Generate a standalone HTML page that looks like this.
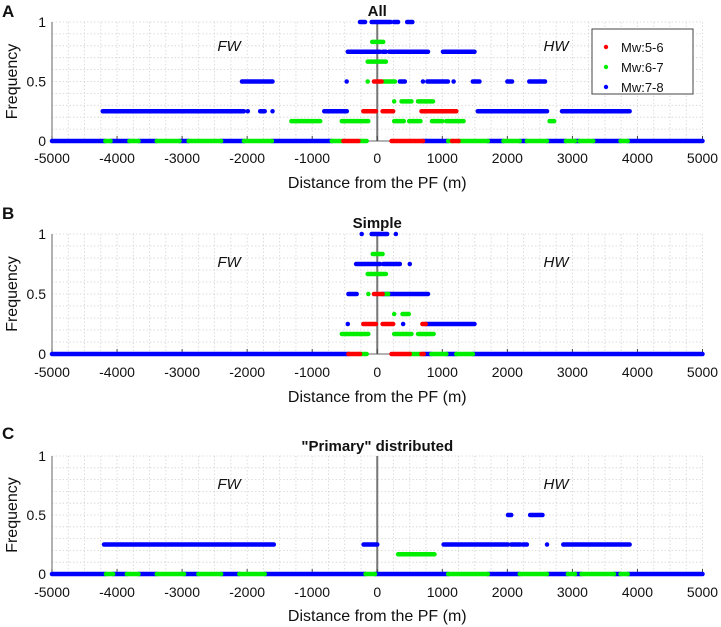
<!DOCTYPE html>
<html><head><meta charset="utf-8"><style>
body{margin:0;background:#fff;}
svg{display:block;font-family:"Liberation Sans",Arial,sans-serif;}
</style></head><body>
<svg id="fig" width="721" height="627" viewBox="0 0 721 627" xmlns="http://www.w3.org/2000/svg"></svg>
<script>
// x-axis ticks and y-axis ticks
const xTicks = [-5000,-4000,-3000,-2000,-1000,0,1000,2000,3000,4000,5000];
const yTicks = [0,0.5,1];
const panelTitles = ["All","Simple","\"Primary\" distributed"];
const panelLetters = ["A","B","C"];
// segments: [frequency, xStart, xEnd]
const aRed = [[0.5,-50,67],[0.25,-214,-20],[0.25,82,245],[0.25,680,1215],[0,-520,-290],[0,219,704],[0,1150,1250]];
const aGreen = [[0.833,-77,92],[0.667,-147,133],[0.5,-147,-147],[0.5,92,271],[0.333,260,260],[0.333,373,526],[0.333,627,857],
 [0.167,-1320,-877],[0.167,-545,-138],[0.167,260,408],[0.167,490,664],[0.167,841,1000],[0.167,1060,1327],[0.167,2650,2720],
 [0,-4180,-4100],[0,-3810,-3670],[0,-3390,-3040],[0,-2900,-2400],[0,-2050,-1620],[0,-700,-520],[0,-275,-163],[0,1090,1150],[0,1250,1700],[0,1940,2190],[0,2300,2610],[0,2900,3040],[0,3110,3320],[0,3740,3850]];
const aBlue = [[1,-265,-188],[1,-86,205],[1,255,320],[1,460,540],[0.75,-453,41],[0.75,82,133],[0.75,184,780],[0.75,1010,1495],
 [0.5,-2080,-1610],[0.5,-470,-470],[0.5,347,424],[0.5,703,703],[0.5,770,1086],[0.5,1174,1174],[0.5,1469,1571],[0.5,2000,2072],[0.5,2337,2580],
 [0.25,-4220,-2050],[0.25,-1990,-1990],[0.25,-1800,-1730],[0.25,-1610,-1610],[0.25,-815,-468],[0.25,1545,2580],[0.25,2610,2610],[0.25,2840,3880],
 [0,-5000,-4180],[0,-4100,-3810],[0,-3670,-3390],[0,-3040,-2900],[0,-2400,-2050],[0,-1620,-700],[0,704,1090],[0,1700,1940],[0,2190,2300],[0,2610,2900],[0,3040,3110],[0,3320,3740],[0,3850,5000]];
const bRed = [[0.5,-50,82],[0.25,-214,-20],[0.25,82,245],[0.25,694,745],[0,-443,-265],[0,219,500],[0,679,714]];
const bGreen = [[0.833,-69,82],[0.667,-147,133],[0.5,-137,-137],[0.5,133,168],[0.333,260,260],[0.333,388,485],
 [0.167,-545,-137],[0.167,260,526],[0.167,627,867],[0,-265,-163],[0,500,679],[0,832,1062],[0,1215,1470]];
const bBlue = [[1,-239,-239],[1,-86,153],[1,286,286],[0.75,-325,41],[0.75,92,347],[0.75,500,500],[0.5,-443,-316],[0.5,82,780],
 [0.25,-453,-453],[0.25,398,398],[0.25,745,1495],[0,-5000,-443],[0,714,832],[0,1062,1215],[0,1470,5000]];
const cRed = [];
const cGreen = [[0.167,320,880],[0,-4170,-4060],[0,-3850,-3670],[0,-3390,-2970],[0,-2750,-2400],[0,-2120,-1730],[0,-180,-35],
 [0,1090,1700],[0,2190,2610],[0,2930,3040],[0,3140,3640],[0,3740,3850]];
const cBlue = [[0.5,2010,2060],[0.5,2350,2540],[0.25,-4200,-1590],[0.25,-210,0],[0.25,1020,2010],[0.25,2060,2200],[0.25,2240,2300],[0.25,2610,2610],[0.25,2860,3880],
 [0,-5000,-4170],[0,-4060,-3850],[0,-3670,-3390],[0,-2970,-2750],[0,-2400,-2120],[0,-1730,-180],[0,-35,1090],[0,1700,2190],[0,2610,2930],[0,3040,3140],[0,3640,3740],[0,3850,5000]];
const seriesData = [[aRed,aGreen,aBlue],[bRed,bGreen,bBlue],[cRed,cGreen,cBlue]];
const legendLabels = ["Mw:5-6","Mw:6-7","Mw:7-8"];

const colors = ["#ff0000","#00ee00","#0000ff"];
const panels = [{top:22,bottom:141,title:10,tl:158,xt:182,fw:45,letter:10},
                {top:234,bottom:354,title:222,tl:372,xt:396,fw:261,letter:212},
                {top:456,bottom:574,title:445,tl:592,xt:615,fw:483,letter:432}];
const L=52,R=702.5;
const NS="http://www.w3.org/2000/svg";
const svg=document.getElementById('fig');
function mk(tag,attrs,parent){const e=document.createElementNS(NS,tag);for(const k in attrs)e.setAttribute(k,attrs[k]);(parent||svg).appendChild(e);return e;}
const xs=d=>L+(d+5000)/10000*(R-L);

panels.forEach((p,pi)=>{
  const g=mk('g',{});
  
  
  const ys=v=>p.bottom-v*(p.bottom-p.top);
  for(let d=-5000;d<=5000;d+=250){const l=mk('line',{x1:xs(d),x2:xs(d),y1:p.top,y2:p.bottom,stroke:'#d4d4d4','stroke-width':0.8,'stroke-dasharray':'1.5,2'},g);
    }
  for(let v=0;v<=1.0001;v+=0.1){const l=mk('line',{x1:L,x2:R,y1:ys(v),y2:ys(v),stroke:'#d4d4d4','stroke-width':0.8,'stroke-dasharray':'1.5,2'},g);
    }
  const ya=mk('line',{x1:L,x2:L,y1:p.top,y2:p.bottom,stroke:'#666','stroke-width':1},g);
  
  const xa=mk('line',{x1:L,x2:R,y1:p.bottom,y2:p.bottom,stroke:'#666','stroke-width':1},g);
  
  const pf=mk('line',{x1:xs(0),x2:xs(0),y1:p.top,y2:p.bottom,stroke:'#777','stroke-width':2},g);
  
  xTicks.forEach(t=>{
    const tk=mk('line',{x1:xs(t),x2:xs(t),y1:p.bottom,y2:p.bottom-5,stroke:'#444','stroke-width':1},g);
    
    const tx=mk('text',{x:xs(t),y:p.tl+5,'text-anchor':'middle','font-size':14,fill:'#111'},g);tx.textContent=t;
    
  });
  yTicks.forEach(t=>{
    const tx=mk('text',{x:L-6,y:ys(t)+5,'text-anchor':'end','font-size':14,fill:'#111'},g);tx.textContent=t;
    
  });
  const xt=mk('text',{x:(L+R)/2,y:p.xt+6,'text-anchor':'middle','font-size':16,fill:'#111'},g);xt.textContent='Distance from the PF (m)';
  
  const yt=mk('text',{x:0,y:0,'text-anchor':'middle','font-size':16,fill:'#111',transform:`translate(17,${(p.top+p.bottom)/2}) rotate(-90)`},g);yt.textContent='Frequency';
  
  const ti=mk('text',{x:xs(0),y:p.title+6,'text-anchor':'middle','font-size':15,'font-weight':'bold',fill:'#111'},g);ti.textContent=panelTitles[pi];
  
  const le=mk('text',{x:2,y:p.letter+7,'font-size':17,'font-weight':'bold',fill:'#111'},g);le.textContent=panelLetters[pi];
  
  const fw=mk('text',{x:229,y:p.fw+6,'text-anchor':'middle','font-size':15,'font-style':'italic',fill:'#111'},g);fw.textContent='FW';
  
  const hw=mk('text',{x:556,y:p.fw+6,'text-anchor':'middle','font-size':15,'font-style':'italic',fill:'#111'},g);hw.textContent='HW';
  
  [2,1,0].forEach(si=>{
    seriesData[pi][si].forEach(s=>{
      const ln=mk('line',{x1:xs(s[1]),x2:xs(s[2]),y1:ys(s[0]),y2:ys(s[0]),stroke:colors[si],'stroke-width':4.5,'stroke-linecap':'round'},g);
      
      
    });
  });
});
const lg=mk('g',{});


mk('rect',{x:592,y:29,width:101,height:65,fill:'#fff',stroke:'#444','stroke-width':1},lg);
legendLabels.forEach((lab,i)=>{
  const y=47+i*20;
  const c=mk('circle',{cx:606,cy:y,r:2.2,fill:colors[i]},lg);
  
  const t=mk('text',{x:621,y:y+5,'font-size':13,fill:'#111'},lg);t.textContent=lab;
  
});
</script>
</body></html>
